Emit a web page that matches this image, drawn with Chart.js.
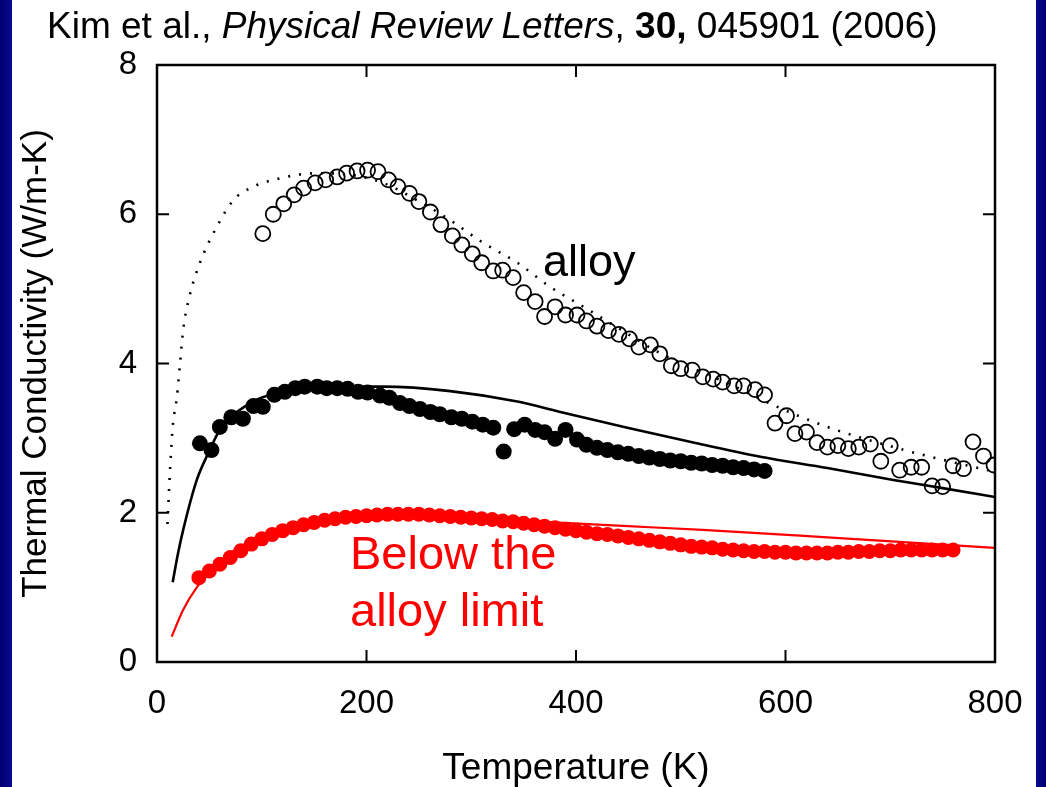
<!DOCTYPE html>
<html>
<head>
<meta charset="utf-8">
<script src="https://cdn.jsdelivr.net/npm/chart.js@4.4.1/dist/chart.umd.min.js"></script>
<style>
  html, body { margin:0; padding:0; }
  body { width:1046px; height:787px; overflow:hidden; position:relative;
         background:linear-gradient(90deg,#000070 0,#0a0a90 12px,#fff 12px,#fff 1036px,#0a0a90 1036px,#000070 1046px);
         font-family:"Liberation Sans", Arial, sans-serif; }
  #wrap { position:absolute; left:0; top:0; width:1046px; height:787px; }
  .txt { position:absolute; white-space:nowrap; line-height:1; }
  #cite  { left:47px; top:7px; font-size:37px; color:#000; }
  #alloy { left:543px; top:238px; font-size:45px; color:#000; }
  #below { left:350px; top:524px; font-size:47px; color:#f00; line-height:57px; }
</style>
</head>
<body>
<div id="wrap"><canvas id="kappa"></canvas></div>
<div class="txt" id="cite">Kim et al., <i>Physical Review Letters</i>, <b>30,</b> 045901 (2006)</div>
<div class="txt" id="alloy">alloy</div>
<div class="txt" id="below">Below the<br>alloy limit</div>
<script>
/* ---------- data ---------- */
// open circles – alloy measurement
const alloyT = [101,111,121,131,140,151,161,172,181,191,201,211,221,230,241,250,261,271,282,291,
                301,310,321,330,340,350,361,370,380,390,401,410,420,431,441,451,460,471,480,491,
                500,511,521,531,540,551,560,571,580,590,601,609,620,630,640,650,660,670,681,691,
                700,709,720,730,740,750,760,770,779,789,799];
const alloyK = [5.74,6.00,6.14,6.26,6.35,6.42,6.46,6.50,6.55,6.58,6.59,6.57,6.46,6.37,6.28,6.17,6.03,5.86,5.71,5.59,
                5.47,5.35,5.24,5.25,5.15,4.95,4.83,4.63,4.76,4.65,4.65,4.57,4.50,4.44,4.39,4.33,4.22,4.25,4.13,3.97,
                3.93,3.91,3.82,3.79,3.75,3.70,3.70,3.65,3.58,3.20,3.30,3.06,3.08,2.94,2.88,2.90,2.86,2.88,2.92,2.69,
                2.90,2.57,2.61,2.61,2.36,2.35,2.63,2.59,2.95,2.76,2.64];

// filled black circles
const blackT = [41,52,60,71,82,92,101,112,122,132,141,153,162,172,182,192,201,213,222,232,
                241,251,261,270,281,291,301,311,321,331,341,351,361,370,380,390,401,410,420,430,
                440,450,460,470,480,490,500,510,520,530,540,550,560,570,580];
const blackK = [2.93,2.84,3.15,3.28,3.26,3.43,3.42,3.58,3.62,3.67,3.69,3.69,3.67,3.67,3.66,3.62,3.61,3.57,3.54,3.47,
                3.43,3.39,3.35,3.32,3.28,3.26,3.22,3.18,3.14,2.82,3.12,3.18,3.11,3.08,2.99,3.11,2.98,2.91,2.87,2.84,
                2.81,2.79,2.76,2.74,2.72,2.70,2.69,2.67,2.66,2.64,2.63,2.61,2.60,2.58,2.56];

// filled red circles
const redT = [40,50,60,70,80,90,100,110,120,130,140,150,160,170,180,190,200,210,220,230,
              240,250,260,270,280,290,300,310,320,330,340,350,360,370,380,390,400,410,420,430,
              440,450,460,470,480,490,500,510,520,530,540,550,560,570,580,590,600,610,620,630,
              640,650,660,670,680,690,700,710,720,730,740,750,760];
const redK = [1.13,1.22,1.31,1.40,1.49,1.58,1.65,1.71,1.76,1.80,1.84,1.87,1.90,1.92,1.94,1.95,1.96,1.97,1.98,1.98,
              1.98,1.98,1.97,1.96,1.95,1.94,1.93,1.92,1.91,1.89,1.88,1.86,1.84,1.82,1.80,1.78,1.76,1.74,1.72,1.71,
              1.69,1.67,1.65,1.63,1.61,1.59,1.57,1.55,1.54,1.53,1.51,1.50,1.49,1.48,1.48,1.47,1.47,1.46,1.46,1.46,
              1.46,1.47,1.47,1.48,1.48,1.49,1.49,1.50,1.50,1.50,1.50,1.50,1.50];

// model curves
const dotT = [10,12,15,19,22,25,31,41,57,73,89,120,153,184,216,248,280,311,344,375,407,440,480,544,592,640,703,750,800];
const dotK = [1.85,2.45,3.15,3.55,4.00,4.45,4.90,5.35,5.83,6.19,6.35,6.49,6.55,6.53,6.42,6.19,5.92,5.62,5.35,5.03,4.76,4.48,4.14,3.74,3.42,3.15,2.88,2.71,2.55];

const lineT = [15,20,25,38,49,60,89,120,168,216,280,344,385,449,512,576,640,703,750,800];
const lineK = [1.07,1.45,1.77,2.44,2.80,3.11,3.47,3.62,3.69,3.69,3.63,3.49,3.35,3.14,2.94,2.75,2.60,2.44,2.33,2.21];

const redLineT = [14,25,38,60,90,120,160,200,250,300,366,450,521,640,720,800];
const redLineK = [0.34,0.70,1.00,1.35,1.63,1.80,1.89,1.92,1.93,1.91,1.88,1.82,1.77,1.67,1.60,1.53];

const xTicks = [0,200,400,600,800];
const yTicks = [0,2,4,6,8];

/* ---------- helpers ---------- */
const pts  = (xs,ys) => xs.map((x,i)=>({x, y:ys[i]}));
const FONT = '"Liberation Sans", Arial, sans-serif';

/* inward ticks + frame, drawn from the scales */
const frameTicks = {
  id:'frameTicks',
  afterDraw(chart){
    const {ctx, chartArea:a, scales:{x, y}} = chart;
    const L = 12;
    ctx.save();
    ctx.strokeStyle = '#000';
    ctx.lineWidth = 2;
    ctx.beginPath();
    xTicks.forEach(v=>{
      const px = x.getPixelForValue(v);
      ctx.moveTo(px, a.bottom); ctx.lineTo(px, a.bottom - L);
      ctx.moveTo(px, a.top);    ctx.lineTo(px, a.top + L);
    });
    yTicks.forEach(v=>{
      const py = y.getPixelForValue(v);
      ctx.moveTo(a.left, py);  ctx.lineTo(a.left + L, py);
      ctx.moveTo(a.right, py); ctx.lineTo(a.right - L, py);
    });
    ctx.stroke();
    ctx.lineWidth = 2.5;
    ctx.strokeRect(a.left, a.top, a.right - a.left, a.bottom - a.top);
    ctx.restore();
  }
};

new Chart(document.getElementById('kappa'), {
  type:'scatter',
  data:{ datasets:[
    { label:'red data', data:pts(redT,redK), pointRadius:7.5, pointBackgroundColor:'#f00', pointBorderWidth:0, showLine:false },
    { label:'black data', data:pts(blackT,blackK), pointRadius:8, pointBackgroundColor:'#000', pointBorderWidth:0, showLine:false },
    { label:'alloy data', data:pts(alloyT,alloyK), pointRadius:7.5, pointBackgroundColor:'rgba(0,0,0,0)',
      pointBorderColor:'#000', pointBorderWidth:1.8, showLine:false },
    { label:'red model', data:pts(redLineT,redLineK), showLine:true, pointRadius:0, borderColor:'#f00',
      borderWidth:2.2, cubicInterpolationMode:'monotone' },
    { label:'black model', data:pts(lineT,lineK), showLine:true, pointRadius:0, borderColor:'#000',
      borderWidth:2.6, cubicInterpolationMode:'monotone' },
    { label:'alloy model', data:pts(dotT,dotK), showLine:true, pointRadius:0, borderColor:'#000',
      borderWidth:2.6, borderDash:[2,9], cubicInterpolationMode:'monotone' }
  ]},
  options:{
    responsive:true, maintainAspectRatio:false, animation:false, devicePixelRatio:1,
    layout:{ padding:{ left:0, right:51, top:65, bottom:0 } },
    plugins:{ legend:{display:false}, tooltip:{enabled:false} },
    scales:{
      x:{ type:'linear', min:0, max:800,
          afterBuildTicks:s=>{ s.ticks = xTicks.map(v=>({value:v})); },
          afterFit:s=>{ s.height = 125; },
          grid:{ display:false, drawTicks:false }, border:{ display:false },
          ticks:{ color:'#000', padding:22, maxRotation:0, font:{ family:FONT, size:33 } },
          title:{ display:true, text:'Temperature (K)', color:'#000', padding:0,
                  font:{ family:FONT, size:37, lineHeight:1 } } },
      y:{ type:'linear', min:0, max:8,
          afterBuildTicks:s=>{ s.ticks = yTicks.map(v=>({value:v})); },
          afterFit:s=>{ s.width = 157; },
          grid:{ display:false, drawTicks:false }, border:{ display:false },
          ticks:{ color:'#000', padding:20, font:{ family:FONT, size:33 } },
          title:{ display:true, text:'Thermal Conductivity (W/m-K)', color:'#000', padding:{top:19, bottom:0},
                  font:{ family:FONT, size:35, lineHeight:1 } } }
    }
  },
  plugins:[frameTicks]
});
</script>
</body>
</html>
